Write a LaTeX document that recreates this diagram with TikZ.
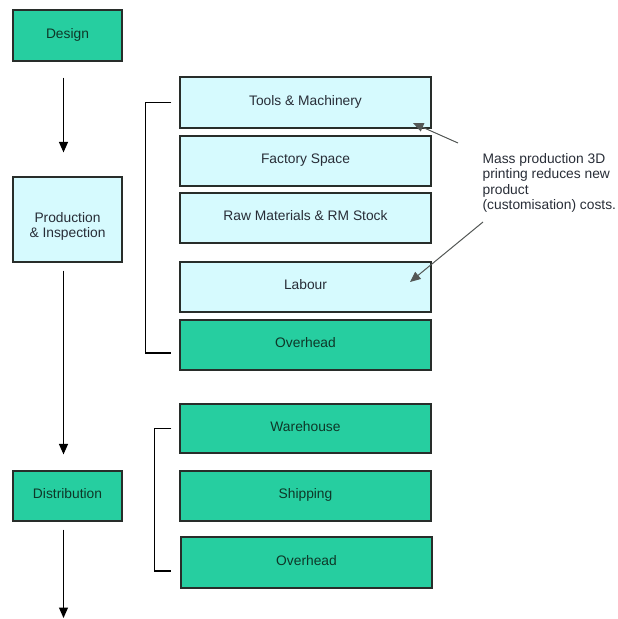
\documentclass[tikz,border=0pt]{standalone}
\usepackage{fontspec}
\setmainfont{Liberation Sans}
\usepackage{xcolor}
\usetikzlibrary{arrows.meta}

\definecolor{stagegreen}{RGB}{38,206,160}
\definecolor{costblue}{RGB}{214,250,254}
\definecolor{boxline}{RGB}{40,45,42}
\definecolor{greentext}{RGB}{14,55,40}
\definecolor{bluetext}{RGB}{40,45,55}

\begin{document}
\begin{tikzpicture}[
            x = 1pt, y = -1pt, % picture units, y going down
            > = {Triangle[length=10.5pt,width=9pt]}, % arrow head style
            line width = 1.2pt,
            font = \fontsize{13.8}{15.3}\selectfont,
            greenbox/.style = {draw=boxline, fill=stagegreen, text=greentext, inner sep=0pt, text height=10pt, text depth=5pt},
            bluebox/.style = {draw=boxline, fill=costblue, text=bluetext, inner sep=0pt, text height=10pt, text depth=5pt},
            stage/.style = {minimum width=109pt},
            cost/.style = {minimum width=251pt, minimum height=50pt}
        ]
\useasboundingbox (0,0) rectangle (618,619);

% stages on the left
\node[greenbox, stage, minimum height=51pt] (design) at (67.5,35.5) {Design};
\node[bluebox, stage, minimum height=85pt, align=center, text height=39pt, text depth=3pt] (prod) at (67.5,219.5) {Production\\\& Inspection};
\node[greenbox, stage, minimum height=50pt] (dist) at (67.5,496) {Distribution};
\coordinate (end) at ([xshift=-4pt]dist.south |- 0,618);

% production costs
\node[bluebox, cost, minimum height=51pt] (tools) at (305.5,102.5) {Tools \& Machinery};
\node[bluebox, cost] (space) at (305.5,161) {Factory Space};
\node[bluebox, cost] (raw) at (305.5,218) {Raw Materials \& RM Stock};
\node[bluebox, cost] (labour) at (305.5,287) {Labour};
\node[greenbox, cost] (ovhA) at (305.5,345) {Overhead};

% distribution costs
\node[greenbox, cost, minimum height=49pt] (ware) at (305.5,428.5) {Warehouse};
\node[greenbox, cost] (ship) at (305.5,496) {Shipping};
\node[greenbox, cost, minimum height=51pt] (ovhB) at (306.5,562.5) {Overhead};

% note
\node[anchor=north west, align=left, inner sep=0pt, text=bluetext] (note) at (482,153)
    {Mass production 3D\\printing reduces new\\product\\(customisation) costs.};
\coordinate (noteA) at (458,143);
\coordinate (noteB) at (483,222);
\coordinate (tipA) at (413,123);
\coordinate (tipB) at (410,282);

 \draw [->, shorten <=16pt, shorten >=24pt] ([xshift=-4pt]design.south) -- ([xshift=-4pt]prod.north);
 \draw [->, shorten <=8pt, shorten >=16pt] ([xshift=-4pt]prod.south) -- ([xshift=-4pt]dist.north);
 \draw [->, shorten <=8pt] ([xshift=-4pt]dist.south) -- (end);

 \draw ([xshift=-8pt]tools.west) -- ++(-26,0) |- ([xshift=-8pt,yshift=-8pt]ovhA.west);
 \draw ([xshift=-8pt]ware.west) -- ++(-17,0) |- ([xshift=-9pt,yshift=-8.5pt]ovhB.west);

 \draw [->, line width=1pt, boxline!80] (noteA) -- (tipA);
 \draw [->, line width=1pt, boxline!80] (noteB) -- (tipB);

\end{tikzpicture}
\end{document}
